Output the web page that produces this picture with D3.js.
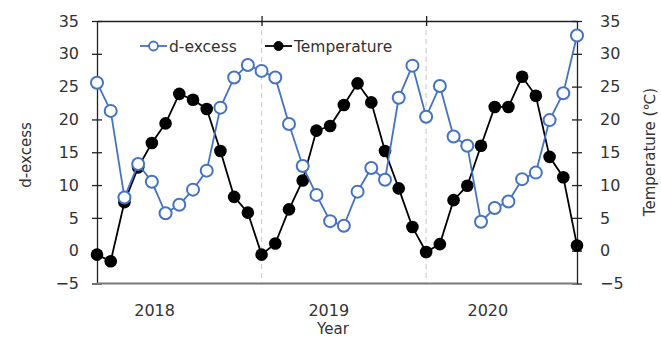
<!DOCTYPE html>
<html>
<head>
<meta charset="utf-8">
<script src="https://cdn.jsdelivr.net/npm/d3@7/dist/d3.min.js"></script>
<style>
  html, body { margin: 0; padding: 0; background: #fff; }
  svg { display: block; }
  text { font-family: "DejaVu Sans", Verdana, sans-serif; fill: #333; }
</style>
</head>
<body>
<svg id="chart" width="661" height="338"></svg>
<script>
// Monthly series, Jan 2018 – Dec 2020
const months = d3.range(36);
const dExcess = [25.6, 21.3, 8.1, 13.2, 10.5, 5.7, 7.0, 9.3, 12.2, 21.8, 26.4, 28.3,
                 27.4, 26.4, 19.3, 12.9, 8.5, 4.5, 3.8, 9.0, 12.6, 10.8, 23.3, 28.2,
                 20.4, 25.1, 17.4, 16.0, 4.4, 6.5, 7.5, 10.9, 11.9, 19.9, 24.0, 32.8];
const temperature = [-0.6, -1.6, 7.4, 12.7, 16.4, 19.4, 23.9, 23.0, 21.6, 15.2, 8.2, 5.8,
                     -0.6, 1.1, 6.3, 10.7, 18.3, 19.0, 22.2, 25.5, 22.6, 15.2, 9.5, 3.6,
                     -0.2, 1.0, 7.7, 9.9, 16.0, 21.9, 21.9, 26.5, 23.6, 14.3, 11.2, 0.8];
const years = ["2018", "2019", "2020"];
const yearLabelAt = [4.2, 16.9, 28.5];   // label anchor, in month units
const yearBreaks = [12, 24];             // January of each new year
const yTicks = [-5, 0, 5, 10, 15, 20, 25, 30, 35];

(function () {
const svg = d3.select("#chart");
const m = { left: 97, right: 577, top: 21, bottom: 283.5 };

const x = d3.scaleLinear().domain([0, 35]).range([m.left, m.right]);
const y = d3.scaleLinear().domain([-5, 35]).range([m.bottom, m.top]);

const fmt = d => d < 0 ? "\u2212" + Math.abs(d) : String(d);

// year boundary guides
svg.append("g").selectAll("line").data(yearBreaks).join("line")
  .attr("x1", d => x(d)).attr("x2", d => x(d))
  .attr("y1", m.top).attr("y2", m.bottom)
  .attr("stroke", "#d0d0d0").attr("stroke-width", 1.2)
  .attr("stroke-dasharray", "5,4");

// left axis
const leftAxis = svg.append("g").attr("transform", `translate(${m.left},0)`)
  .call(d3.axisLeft(y).tickValues(yTicks).tickFormat(fmt).tickSize(5).tickSizeOuter(0));
leftAxis.selectAll(".tick line").attr("x2", 5).attr("x1", -5);
// right axis
const rightAxis = svg.append("g").attr("transform", `translate(${m.right},0)`)
  .call(d3.axisRight(y).tickValues(yTicks).tickFormat(fmt).tickSize(5).tickSizeOuter(0));
rightAxis.selectAll(".tick line").attr("x1", -5).attr("x2", 5);
// top axis with ticks at year breaks
const topAxis = svg.append("g").attr("transform", `translate(0,${m.top})`)
  .call(d3.axisTop(x).tickValues(yearBreaks).tickFormat("").tickSize(5).tickSizeOuter(0));
topAxis.selectAll(".tick line").attr("y1", 5).attr("y2", -5);

[leftAxis, rightAxis, topAxis].forEach(g => {
  g.select(".domain").attr("stroke", "#222").attr("stroke-width", 1.3);
  g.selectAll(".tick line").attr("stroke", "#222").attr("stroke-width", 1.3);
  g.selectAll("text").attr("font-size", 16).style("font-family", "DejaVu Sans, Verdana, sans-serif").attr("fill", "#333");
});
leftAxis.selectAll(".tick text").attr("x", -18);
rightAxis.selectAll(".tick text").attr("x", 23);

// bottom axis line
svg.append("line")
  .attr("x1", m.left).attr("x2", m.right)
  .attr("y1", m.bottom).attr("y2", m.bottom)
  .attr("stroke", "#7a7a7a").attr("stroke-width", 2);

// year labels
svg.append("g").selectAll("text").data(years).join("text")
  .attr("x", (d, i) => x(yearLabelAt[i])).attr("y", 316)
  .attr("text-anchor", "middle").attr("font-size", 16).text(d => d);

// axis titles
svg.append("text").attr("x", 333).attr("y", 334).attr("text-anchor", "middle")
  .attr("font-size", 15).text("Year");
svg.append("text").attr("transform", "translate(31,155) rotate(-90)")
  .attr("text-anchor", "middle").attr("font-size", 15).text("d-excess");
svg.append("text").attr("transform", "translate(655,152) rotate(-90)")
  .attr("text-anchor", "middle").attr("font-size", 15).text("Temperature (\u2103)");

const line = d3.line().x((d, i) => x(months[i])).y(d => y(d));
const blue = "#4472c4";

// temperature series
svg.append("path").datum(temperature).attr("d", line)
  .attr("fill", "none").attr("stroke", "#000").attr("stroke-width", 1.8);
svg.append("g").selectAll("circle").data(temperature).join("circle")
  .attr("cx", (d, i) => x(months[i])).attr("cy", d => y(d)).attr("r", 6.3)
  .attr("fill", "#000");

// d-excess series
svg.append("path").datum(dExcess).attr("d", line)
  .attr("fill", "none").attr("stroke", blue).attr("stroke-width", 1.8);
svg.append("g").selectAll("circle").data(dExcess).join("circle")
  .attr("cx", (d, i) => x(months[i])).attr("cy", d => y(d)).attr("r", 6)
  .attr("fill", "#fff").attr("stroke", blue).attr("stroke-width", 2);

// legend
const legend = svg.append("g");
const items = [
  { name: "d-excess", x0: 140, color: blue, open: true },
  { name: "Temperature", x0: 265, color: "#000", open: false }
];
items.forEach(it => {
  const g = legend.append("g").attr("transform", `translate(${it.x0},46)`);
  g.append("line").attr("x1", 0).attr("x2", 27).attr("stroke", it.color).attr("stroke-width", 1.8);
  g.append("circle").attr("cx", 13.5).attr("r", 4.5)
    .attr("fill", it.open ? "#fff" : "#000").attr("stroke", it.color).attr("stroke-width", it.open ? 1.8 : 1);
  g.append("text").attr("x", 29).attr("y", 5.5).attr("font-size", 15.5).text(it.name);
});
})();
</script>
</body>
</html>
